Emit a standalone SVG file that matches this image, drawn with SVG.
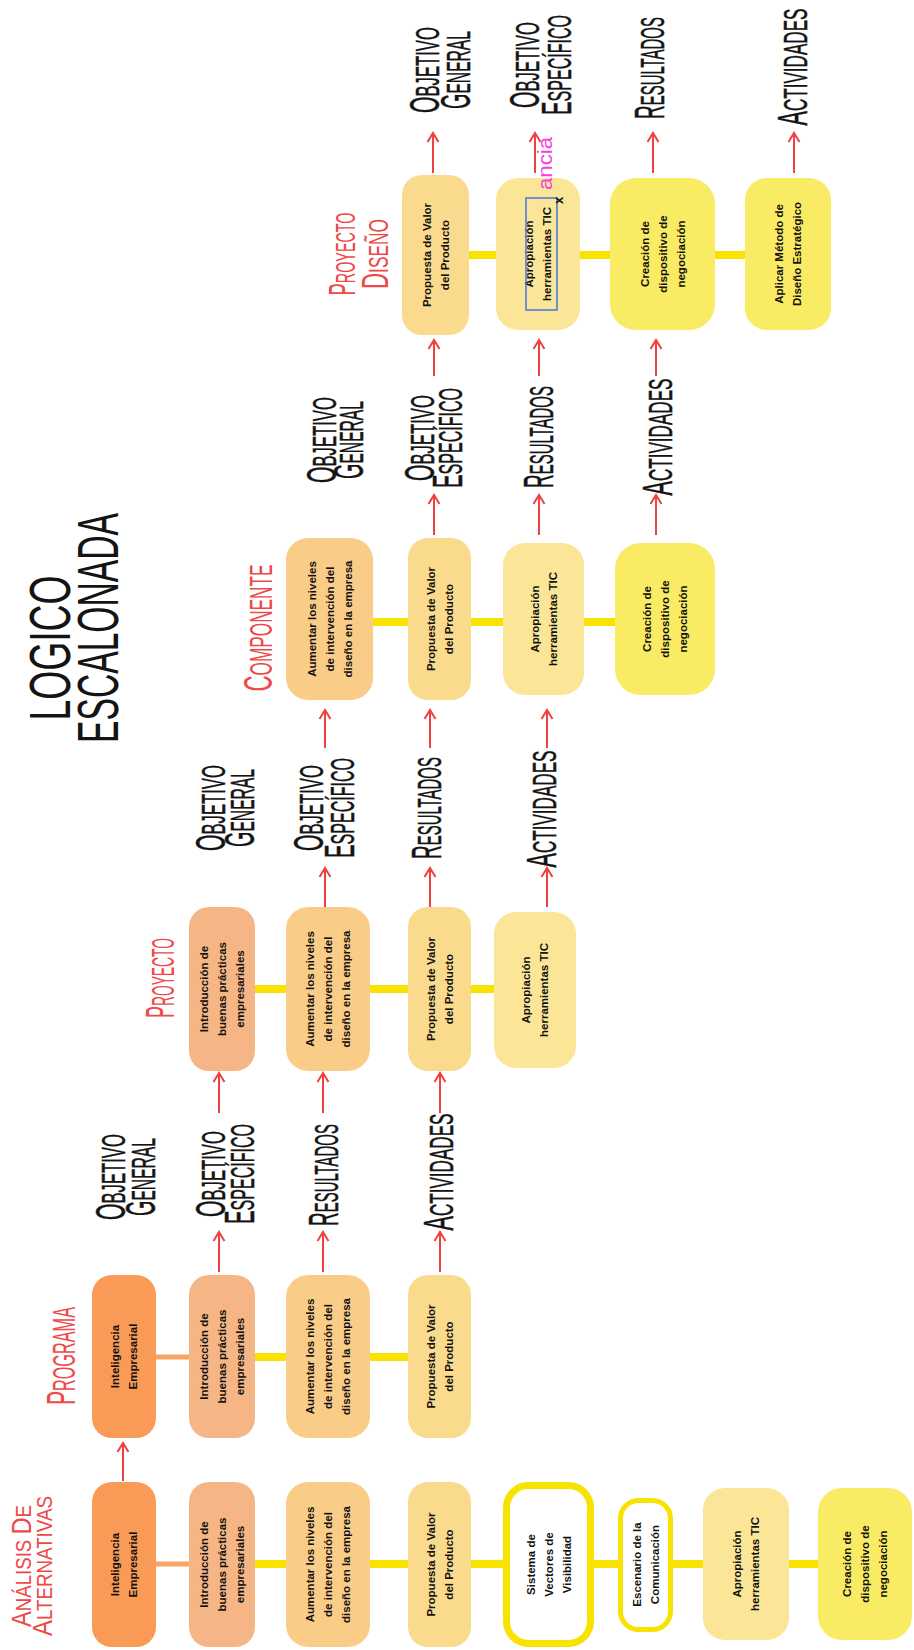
<svg xmlns="http://www.w3.org/2000/svg" width="914" height="1650" viewBox="0 0 914 1650">
<defs>
  <marker id="ah" markerWidth="14" markerHeight="14" refX="11" refY="7" orient="auto" markerUnits="userSpaceOnUse">
    <path d="M2,1.5 L11,7 L2,12.5" fill="none" stroke="#EE4141" stroke-width="2"/>
  </marker>
</defs>
<style>
  .nt { font-family: "Liberation Sans", Arial, sans-serif; font-weight: bold; font-size: 11.5px; fill: #111; text-anchor: middle; }
  .lbl { font-family: "Liberation Sans", Arial, sans-serif; font-size: 34px; fill: #141414; stroke: #141414; stroke-width: 0.5px; text-anchor: middle; }
  .lbl .b { font-size: 43px; }
  .hd { font-family: "Liberation Sans", Arial, sans-serif; font-size: 31px; fill: #EF4848; text-anchor: middle; }
  .hd .b { font-size: 40px; }
  .hds { font-family: "Liberation Sans", Arial, sans-serif; font-size: 22px; fill: #EF4848; text-anchor: middle; }
  .hds .b { font-size: 28px; }
  .ttl { font-family: "Liberation Sans", Arial, sans-serif; font-size: 58px; fill: #141414; text-anchor: middle; }
  .arr { stroke: #EE4141; stroke-width: 2; fill: none; marker-end: url(#ah); }
  .cy { stroke: #F8E200; stroke-width: 8; }
  .co { stroke: #F7A466; stroke-width: 5; }
  .n-int { fill: #FA9A57; }
  .n-intro { fill: #F5B584; }
  .n-aum { fill: #F9CC88; }
  .n-prop { fill: #FADA8D; }
  .n-apr { fill: #FBE597; }
  .n-cre { fill: #F9EB63; }
</style>

<!-- whole chart is laid out left-to-right, then turned to read bottom-to-top -->
<g transform="translate(0,1650) rotate(-90)">

  <!-- title -->
  <g id="title">
    <text class="ttl" x="1002" y="70" textLength="145" lengthAdjust="spacingAndGlyphs">LOGICO</text>
    <text class="ttl" x="1022" y="118" textLength="230" lengthAdjust="spacingAndGlyphs">ESCALONADA</text>
  </g>

  <!-- column headings -->
  <g id="headings">
    <text class="hds" x="84" y="31" textLength="122" lengthAdjust="spacingAndGlyphs"><tspan class="b">A</tspan>NÁLISIS <tspan class="b">D</tspan>E</text>
    <text class="hds" x="84" y="52" textLength="140" lengthAdjust="spacingAndGlyphs"><tspan class="b">A</tspan>LTERNATIVAS</text>
    <text class="hd" x="294" y="75" textLength="98" lengthAdjust="spacingAndGlyphs"><tspan class="b">P</tspan>ROGRAMA</text>
    <text class="hd" x="672" y="174" textLength="80" lengthAdjust="spacingAndGlyphs"><tspan class="b">P</tspan>ROYECTO</text>
    <text class="hd" x="1022" y="272" textLength="127" lengthAdjust="spacingAndGlyphs"><tspan class="b">C</tspan>OMPONENTE</text>
    <text class="hd" x="1396" y="355" textLength="83" lengthAdjust="spacingAndGlyphs" style="font-size:28px"><tspan class="b" style="font-size:36px">P</tspan>ROYECTO</text>
    <text class="hd" x="1396" y="388" textLength="70" lengthAdjust="spacingAndGlyphs" style="font-size:28px"><tspan class="b" style="font-size:36px">D</tspan>ISEÑO</text>
  </g>

  <!-- links between boxes and level arrows -->
  <g id="connectors">
    <line class="co" x1="86" y1="156" x2="86" y2="189"/>
    <line class="cy" x1="86" y1="255" x2="86" y2="818"/>
    <line class="co" x1="293" y1="156" x2="293" y2="189"/>
    <line class="cy" x1="293" y1="255" x2="293" y2="408"/>
    <line class="cy" x1="661" y1="255" x2="661" y2="494"/>
    <line class="cy" x1="1028" y1="373" x2="1028" y2="615"/>
    <line class="cy" x1="1395" y1="469" x2="1395" y2="745"/>

    <path class="arr" d="M169,123 H207"/>

    <path class="arr" d="M378,219 H418"/>
    <path class="arr" d="M378,323 H418"/>
    <path class="arr" d="M378,440 H418"/>
    <path class="arr" d="M537,219 H577"/>
    <path class="arr" d="M537,323 H577"/>
    <path class="arr" d="M537,440 H577"/>

    <path class="arr" d="M743,325 H782"/>
    <path class="arr" d="M743,430 H782"/>
    <path class="arr" d="M743,547 H782"/>
    <path class="arr" d="M902,325 H940"/>
    <path class="arr" d="M902,430 H940"/>
    <path class="arr" d="M902,547 H940"/>

    <path class="arr" d="M1115,434 H1155"/>
    <path class="arr" d="M1115,539 H1155"/>
    <path class="arr" d="M1115,656 H1155"/>
    <path class="arr" d="M1274,434 H1310"/>
    <path class="arr" d="M1274,539 H1310"/>
    <path class="arr" d="M1274,656 H1310"/>

    <path class="arr" d="M1477,433 H1517"/>
    <path class="arr" d="M1477,535 H1517"/>
    <path class="arr" d="M1477,653 H1517"/>
    <path class="arr" d="M1477,794 H1517"/>
  </g>

  <!-- level labels (condensed by a horizontal scale) -->
  <g id="labels">
    <text class="lbl" transform="translate(473,125) scale(0.491,1)"><tspan class="b">O</tspan>BJETIVO</text>
    <text class="lbl" transform="translate(473,155) scale(0.46,1)"><tspan class="b">G</tspan>ENERAL</text>
    <text class="lbl" transform="translate(476,225) scale(0.491,1)"><tspan class="b">O</tspan>BJETIVO</text>
    <text class="lbl" transform="translate(476,254) scale(0.472,1)"><tspan class="b">E</tspan>SPECÍFICO</text>
    <text class="lbl" transform="translate(475,338) scale(0.439,1)"><tspan class="b">R</tspan>ESULTADOS</text>
    <text class="lbl" transform="translate(478,453) scale(0.503,1)"><tspan class="b">A</tspan>CTIVIDADES</text>

    <text class="lbl" transform="translate(842,225) scale(0.491,1)"><tspan class="b">O</tspan>BJETIVO</text>
    <text class="lbl" transform="translate(842,254) scale(0.46,1)"><tspan class="b">G</tspan>ENERAL</text>
    <text class="lbl" transform="translate(842,323) scale(0.491,1)"><tspan class="b">O</tspan>BJETIVO</text>
    <text class="lbl" transform="translate(842,354) scale(0.472,1)"><tspan class="b">E</tspan>SPECÍFICO</text>
    <text class="lbl" transform="translate(842,441) scale(0.439,1)"><tspan class="b">R</tspan>ESULTADOS</text>
    <text class="lbl" transform="translate(841,556) scale(0.503,1)"><tspan class="b">A</tspan>CTIVIDADES</text>

    <text class="lbl" transform="translate(1210,336) scale(0.491,1)"><tspan class="b">O</tspan>BJETIVO</text>
    <text class="lbl" transform="translate(1210,363) scale(0.46,1)"><tspan class="b">G</tspan>ENERAL</text>
    <text class="lbl" transform="translate(1212,434) scale(0.491,1)"><tspan class="b">O</tspan>BJETIVO</text>
    <text class="lbl" transform="translate(1212,462) scale(0.472,1)"><tspan class="b">E</tspan>SPECÍFICO</text>
    <text class="lbl" transform="translate(1213,553) scale(0.439,1)"><tspan class="b">R</tspan>ESULTADOS</text>
    <text class="lbl" transform="translate(1213,672) scale(0.503,1)"><tspan class="b">A</tspan>CTIVIDADES</text>

    <text class="lbl" transform="translate(1580,439) scale(0.491,1)"><tspan class="b">O</tspan>BJETIVO</text>
    <text class="lbl" transform="translate(1580,470) scale(0.46,1)"><tspan class="b">G</tspan>ENERAL</text>
    <text class="lbl" transform="translate(1585,539) scale(0.491,1)"><tspan class="b">O</tspan>BJETIVO</text>
    <text class="lbl" transform="translate(1585,571) scale(0.472,1)"><tspan class="b">E</tspan>SPECÍFICO</text>
    <text class="lbl" transform="translate(1582,664) scale(0.439,1)"><tspan class="b">R</tspan>ESULTADOS</text>
    <text class="lbl" transform="translate(1583,807) scale(0.503,1)"><tspan class="b">A</tspan>CTIVIDADES</text>
  </g>

  <!-- column 1: análisis de alternativas -->
  <g id="c1-inteligencia">
    <rect class="n-int" x="3" y="92" width="165" height="64" rx="20"/>
    <text class="nt"><tspan x="85.5" y="119">Inteligencia</tspan><tspan x="85.5" y="137">Empresarial</tspan></text>
  </g>
  <g id="c1-introduccion">
    <rect class="n-intro" x="3" y="189" width="165" height="66" rx="20"/>
    <text class="nt"><tspan x="85.5" y="208">Introducción de</tspan><tspan x="85.5" y="226">buenas prácticas</tspan><tspan x="85.5" y="244">empresariales</tspan></text>
  </g>
  <g id="c1-aumentar">
    <rect class="n-aum" x="3" y="286" width="165" height="84" rx="22"/>
    <text class="nt"><tspan x="85.5" y="314">Aumentar los niveles</tspan><tspan x="85.5" y="332">de intervención del</tspan><tspan x="85.5" y="350">diseño en la empresa</tspan></text>
  </g>
  <g id="c1-propuesta">
    <rect class="n-prop" x="3" y="408" width="165" height="63" rx="20"/>
    <text class="nt"><tspan x="85.5" y="434.5">Propuesta de Valor</tspan><tspan x="85.5" y="452.5">del Producto</tspan></text>
  </g>
  <g id="c1-sistema">
    <rect x="6.5" y="506.5" width="158" height="84" rx="22" fill="#FFFFFF" stroke="#F8E200" stroke-width="7"/>
    <text class="nt"><tspan x="85.5" y="534.5">Sistema de</tspan><tspan x="85.5" y="552.5">Vectores de</tspan><tspan x="85.5" y="570.5">Visibilidad</tspan></text>
  </g>
  <g id="c1-escenario">
    <rect x="20.5" y="620.5" width="129" height="50" rx="18" fill="#FFFFFF" stroke="#F8E200" stroke-width="5"/>
    <text class="nt"><tspan x="85.5" y="640.5">Escenario de la</tspan><tspan x="85.5" y="658.5">Comunicación</tspan></text>
  </g>
  <g id="c1-apropiacion">
    <rect class="n-apr" x="10" y="703" width="152" height="86" rx="22"/>
    <text class="nt"><tspan x="86" y="741">Apropiación</tspan><tspan x="86" y="759">herramientas TIC</tspan></text>
  </g>
  <g id="c1-creacion">
    <rect class="n-cre" x="10" y="818" width="152" height="94" rx="24"/>
    <text class="nt"><tspan x="86" y="851">Creación de</tspan><tspan x="86" y="869">dispositivo de</tspan><tspan x="86" y="887">negociación</tspan></text>
  </g>

  <!-- column 2: programa -->
  <g id="c2-inteligencia">
    <rect class="n-int" x="212" y="92" width="163" height="64" rx="20"/>
    <text class="nt"><tspan x="293.5" y="119">Inteligencia</tspan><tspan x="293.5" y="137">Empresarial</tspan></text>
  </g>
  <g id="c2-introduccion">
    <rect class="n-intro" x="212" y="189" width="163" height="66" rx="20"/>
    <text class="nt"><tspan x="293.5" y="208">Introducción de</tspan><tspan x="293.5" y="226">buenas prácticas</tspan><tspan x="293.5" y="244">empresariales</tspan></text>
  </g>
  <g id="c2-aumentar">
    <rect class="n-aum" x="212" y="286" width="163" height="84" rx="22"/>
    <text class="nt"><tspan x="293.5" y="314">Aumentar los niveles</tspan><tspan x="293.5" y="332">de intervención del</tspan><tspan x="293.5" y="350">diseño en la empresa</tspan></text>
  </g>
  <g id="c2-propuesta">
    <rect class="n-prop" x="212" y="408" width="163" height="63" rx="20"/>
    <text class="nt"><tspan x="293.5" y="434.5">Propuesta de Valor</tspan><tspan x="293.5" y="452.5">del Producto</tspan></text>
  </g>

  <!-- column 3: proyecto -->
  <g id="c3-introduccion">
    <rect class="n-intro" x="579" y="189" width="164" height="66" rx="20"/>
    <text class="nt"><tspan x="661" y="208">Introducción de</tspan><tspan x="661" y="226">buenas prácticas</tspan><tspan x="661" y="244">empresariales</tspan></text>
  </g>
  <g id="c3-aumentar">
    <rect class="n-aum" x="579" y="286" width="164" height="84" rx="22"/>
    <text class="nt"><tspan x="661" y="314">Aumentar los niveles</tspan><tspan x="661" y="332">de intervención del</tspan><tspan x="661" y="350">diseño en la empresa</tspan></text>
  </g>
  <g id="c3-propuesta">
    <rect class="n-prop" x="579" y="408" width="164" height="63" rx="20"/>
    <text class="nt"><tspan x="661" y="434.5">Propuesta de Valor</tspan><tspan x="661" y="452.5">del Producto</tspan></text>
  </g>
  <g id="c3-apropiacion">
    <rect class="n-apr" x="582" y="494" width="156" height="82" rx="22"/>
    <text class="nt"><tspan x="660" y="530">Apropiación</tspan><tspan x="660" y="548">herramientas TIC</tspan></text>
  </g>

  <!-- column 4: componente -->
  <g id="c4-aumentar">
    <rect class="n-aum" x="950" y="286" width="162" height="87" rx="22"/>
    <text class="nt"><tspan x="1031" y="315.5">Aumentar los niveles</tspan><tspan x="1031" y="333.5">de intervención del</tspan><tspan x="1031" y="351.5">diseño en la empresa</tspan></text>
  </g>
  <g id="c4-propuesta">
    <rect class="n-prop" x="950" y="408" width="162" height="63" rx="20"/>
    <text class="nt"><tspan x="1031" y="434.5">Propuesta de Valor</tspan><tspan x="1031" y="452.5">del Producto</tspan></text>
  </g>
  <g id="c4-apropiacion">
    <rect class="n-apr" x="955" y="503" width="152" height="81" rx="22"/>
    <text class="nt"><tspan x="1031" y="538.5">Apropiación</tspan><tspan x="1031" y="556.5">herramientas TIC</tspan></text>
  </g>
  <g id="c4-creacion">
    <rect class="n-cre" x="955" y="615" width="152" height="100" rx="26"/>
    <text class="nt"><tspan x="1031" y="651">Creación de</tspan><tspan x="1031" y="669">dispositivo de</tspan><tspan x="1031" y="687">negociación</tspan></text>
  </g>

  <!-- column 5: proyecto diseño -->
  <g id="c5-propuesta">
    <rect class="n-prop" x="1315" y="402" width="160" height="67" rx="20"/>
    <text class="nt"><tspan x="1395" y="430.5">Propuesta de Valor</tspan><tspan x="1395" y="448.5">del Producto</tspan></text>
  </g>
  <g id="c5-apropiacion">
    <rect class="n-apr" x="1320" y="496" width="152" height="84" rx="22"/>
    <text class="nt"><tspan x="1396" y="533">Apropiación</tspan><tspan x="1396" y="551">herramientas TIC</tspan></text>
    <rect x="1340" y="526" width="112" height="31" fill="none" stroke="#4474E6" stroke-width="1.5"/>
    <text x="1446" y="563" font-family="Liberation Sans, Arial, sans-serif" font-size="13" font-weight="bold" fill="#111">x</text>
  </g>
  <g id="c5-creacion">
    <rect class="n-cre" x="1320" y="610" width="152" height="105" rx="26"/>
    <text class="nt"><tspan x="1396" y="648.5">Creación de</tspan><tspan x="1396" y="666.5">dispositivo de</tspan><tspan x="1396" y="684.5">negociación</tspan></text>
  </g>
  <g id="c5-aplicar">
    <rect class="n-cre" x="1320" y="745" width="152" height="86" rx="22"/>
    <text class="nt"><tspan x="1396" y="783">Aplicar Método de</tspan><tspan x="1396" y="801">Diseño Estratégico</tspan></text>
  </g>

  <!-- stray edit text over the second box -->
  <text x="1460" y="552" font-family="Liberation Sans, Arial, sans-serif" font-size="21" fill="#F53FE0" textLength="53" lengthAdjust="spacingAndGlyphs">ancia</text>
</g>
</svg>
